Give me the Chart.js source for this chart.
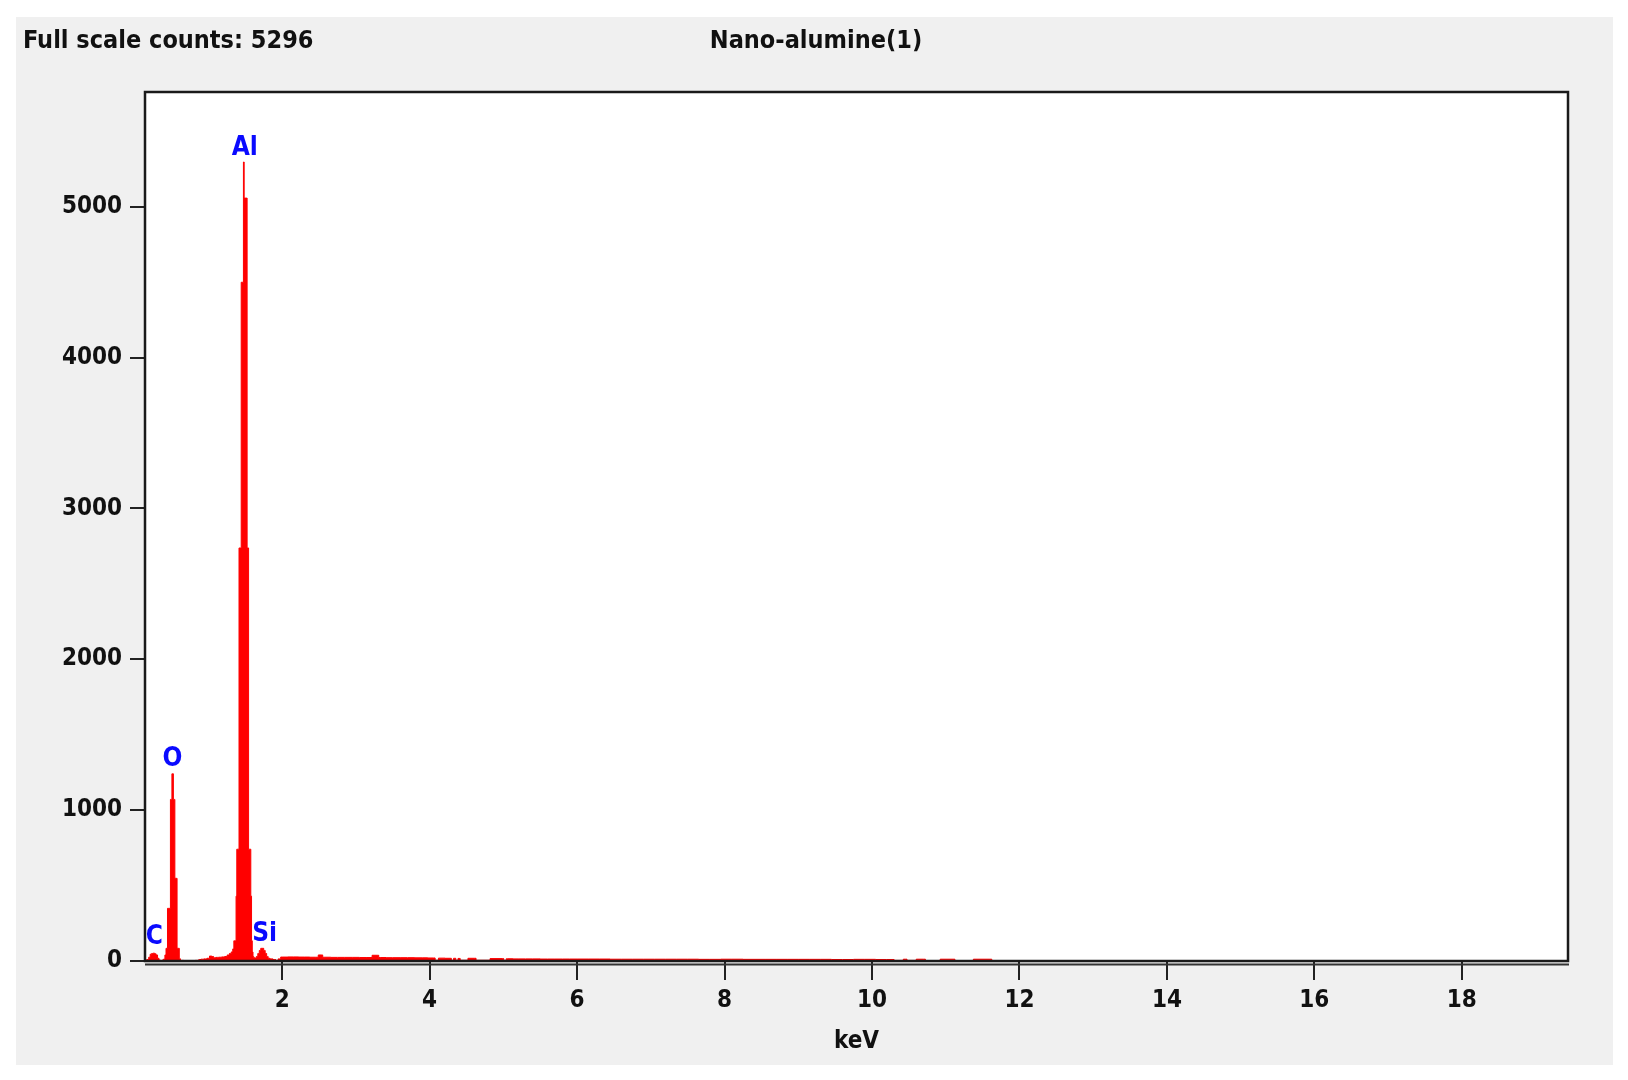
<!DOCTYPE html>
<html>
<head>
<meta charset="utf-8">
<title>Nano-alumine(1)</title>
<script src="https://cdn.jsdelivr.net/npm/chart.js@4.4.1/dist/chart.umd.min.js"></script>
<style>
    html, body { margin: 0; padding: 0; background: #ffffff; }
    #chartEDS { display: block; }
</style>
</head>
<body>
<canvas id="chartEDS" width="1628" height="1080"></canvas>
<script>
// Spectrum title texts
const spectrumName = 'Nano-alumine(1)';
const fullScaleCounts = 5296;

// Channel energies (keV)
const energyKeV = [
    0.15, 0.18, 0.20, 0.22, 0.24, 0.26, 0.28, 0.30, 0.32, 0.34, 0.36, 0.38, 0.40, 0.42,
    0.43, 0.44, 0.45, 0.46, 0.47, 0.48, 0.49, 0.50, 0.51, 0.52, 0.53, 0.54, 0.55, 0.56,
    0.57, 0.58, 0.59, 0.60, 0.61, 0.63, 0.70, 0.78, 0.86, 0.88, 0.92, 0.96, 1.00, 1.03,
    1.06, 1.08, 1.12, 1.16, 1.20, 1.24, 1.27, 1.30, 1.32, 1.34, 1.35, 1.36, 1.37, 1.38,
    1.39, 1.40, 1.41, 1.42, 1.43, 1.44, 1.45, 1.46, 1.47, 1.48, 1.49, 1.50, 1.51, 1.52,
    1.53, 1.54, 1.55, 1.56, 1.57, 1.58, 1.59, 1.60, 1.61, 1.62, 1.64, 1.66, 1.68, 1.70,
    1.72, 1.74, 1.76, 1.78, 1.80, 1.82, 1.85, 1.90, 1.93, 1.96, 2.00, 2.15, 2.30, 2.45,
    2.53, 2.57, 2.75, 2.95, 3.15, 3.29, 3.33, 3.50, 3.70, 3.90, 4.05, 4.10, 4.14, 4.28,
    4.31, 4.34, 4.37, 4.40, 4.43, 4.61, 4.65, 4.99, 5.02, 5.06, 5.20, 5.40, 5.60, 5.80,
    6.00, 6.30, 6.60, 6.90, 7.20, 7.50, 7.80, 8.10, 8.40, 8.70, 9.00, 9.30, 9.60, 9.90,
    10.20, 10.40, 10.45, 10.50, 10.70, 10.75, 11.10, 11.15, 11.60, 11.65, 19.44
];

// Counts per channel
const counts = [
    6, 10, 25, 45, 50, 52, 48, 40, 18, 6, 0, 6, 12, 40,
    84, 84, 349, 349, 349, 349, 1071, 1071, 1241, 1241, 1071, 1071, 548, 548,
    548, 84, 84, 84, 15, 4, 2, 3, 4, 10, 12, 14, 18, 33,
    30, 22, 24, 25, 27, 30, 40, 50, 60, 80, 134, 134, 134, 430,
    741, 741, 741, 2738, 2738, 2738, 4499, 4499, 4499, 5296, 5057, 5057, 5057, 5057,
    2738, 2738, 741, 741, 741, 430, 134, 60, 30, 22, 20, 30, 50, 70,
    84, 84, 70, 50, 30, 18, 14, 10, 0, 14, 26, 27, 26, 25,
    40, 25, 24, 24, 23, 38, 23, 22, 22, 21, 20, 5, 19, 18,
    5, 18, 5, 17, 5, 18, 5, 16, 5, 15, 14, 14, 13, 13,
    13, 13, 12, 12, 12, 12, 11, 12, 11, 11, 11, 11, 10, 11,
    10, 4, 12, 4, 12, 3, 12, 3, 12, 0, 0
];

// Axis ticks
const xTicks = [2, 4, 6, 8, 10, 12, 14, 16, 18];
const yTicks = [0, 1000, 2000, 3000, 4000, 5000];

// Element markers (energy and count where the label sits)
const peakNames = ['C', 'O', 'Al', 'Si'];
const peakLabelKeV = [0.265, 0.513, 1.492, 1.763];
const peakLabelCounts = [112, 1290, 5345, 134];

const fontFamily = "'DejaVu Sans Condensed', 'DejaVu Sans', sans-serif";
let chartEDSInstance = null;

// Background panel, frame, titles and element labels
const spectrumDecor = {
    id: 'spectrumDecor',
    beforeDraw(chart) {
        const ctx = chart.ctx;
        const area = chart.chartArea;
        ctx.save();
        ctx.fillStyle = '#ffffff';
        ctx.fillRect(0, 0, chart.width, chart.height);
        ctx.fillStyle = '#f0f0f0';
        ctx.fillRect(16, 17, 1597, 1048);
        ctx.fillStyle = '#ffffff';
        ctx.fillRect(area.left, area.top, area.right - area.left, area.bottom - area.top);
        ctx.restore();
    },
    afterDatasetsDraw(chart) {
        const ctx = chart.ctx;
        const area = chart.chartArea;
        const xs = chart.scales.x;
        const ys = chart.scales.y;
        ctx.save();

        // frame + second axis line
        ctx.strokeStyle = '#1a1a1a';
        ctx.lineWidth = 2.5;
        ctx.strokeRect(area.left, area.top, area.right - area.left, area.bottom - area.top);
        ctx.strokeStyle = '#333333';
        ctx.lineWidth = 2;
        ctx.beginPath();
        ctx.moveTo(area.left, area.bottom + 3.5);
        ctx.lineTo(area.right + 1, area.bottom + 3.5);
        ctx.stroke();

        // element labels
        ctx.fillStyle = '#0a0aff';
        ctx.font = 'bold 26px ' + fontFamily;
        ctx.textAlign = 'center';
        ctx.textBaseline = 'alphabetic';
        peakNames.forEach((name, i) => {
            ctx.fillText(name, xs.getPixelForValue(peakLabelKeV[i]), ys.getPixelForValue(peakLabelCounts[i]));
        });

        // header texts
        ctx.fillStyle = '#111111';
        ctx.font = 'bold 25px ' + fontFamily;
        ctx.textAlign = 'left';
        ctx.fillText('Full scale counts: ' + fullScaleCounts, 23, 47.5);
        ctx.textAlign = 'center';
        ctx.fillText(spectrumName, 816, 47.5);
        ctx.restore();
    }
};

document.addEventListener('DOMContentLoaded', function() {
    const ctx = document.getElementById('chartEDS');

    chartEDSInstance = new Chart(ctx, {
        type: 'line',
        data: {
            datasets: [{
                label: spectrumName,
                data: energyKeV.map((e, i) => ({ x: e, y: counts[i] })),
                stepped: 'middle',
                fill: 'origin',
                borderColor: '#ff0000',
                backgroundColor: '#ff0000',
                borderWidth: 1,
                pointRadius: 0
            }]
        },
        options: {
            responsive: false,
            animation: false,
            devicePixelRatio: 1,
            layout: { padding: { top: 92, right: 60, left: 0, bottom: 0 } },
            plugins: {
                legend: { display: false },
                tooltip: { enabled: false }
            },
            scales: {
                x: {
                    type: 'linear',
                    min: 0.14,
                    max: 19.44,
                    afterBuildTicks: axis => { axis.ticks = xTicks.map(v => ({ value: v })); },
                    afterFit: axis => { axis.height = 119; },
                    border: { display: false },
                    grid: { drawOnChartArea: false, drawTicks: true, tickLength: 19, color: '#222222', lineWidth: 2 },
                    ticks: {
                        autoSkip: false,
                        maxRotation: 0,
                        padding: 6,
                        color: '#111111',
                        callback: value => String(value),
                        font: { family: fontFamily, size: 24, weight: 'bold' }
                    },
                    title: {
                        display: true,
                        text: 'keV',
                        color: '#111111',
                        font: { family: fontFamily, size: 24, weight: 'bold' },
                        padding: { top: 0, bottom: 24 }
                    }
                },
                y: {
                    min: 0,
                    max: 5760,
                    afterBuildTicks: axis => { axis.ticks = yTicks.map(v => ({ value: v })); },
                    afterFit: axis => { axis.width = 145; },
                    border: { display: false },
                    grid: { drawOnChartArea: false, drawTicks: true, tickLength: 15, color: '#222222', lineWidth: 2 },
                    ticks: {
                        padding: 8,
                        color: '#111111',
                        callback: value => String(value),
                        font: { family: fontFamily, size: 24, weight: 'bold' }
                    }
                }
            }
        },
        plugins: [spectrumDecor]
    });
});
</script>
</body>
</html>
